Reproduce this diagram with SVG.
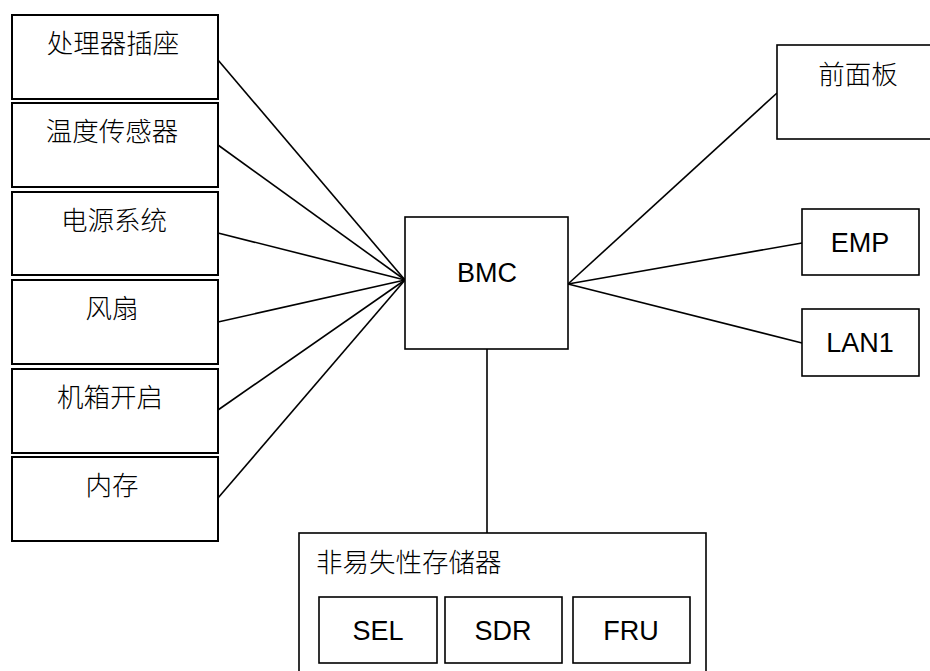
<svg xmlns="http://www.w3.org/2000/svg" width="930" height="671" viewBox="0 0 930 671">
<style>
.box{fill:#fff;stroke:#000;stroke-width:2}
.sbox{fill:#fff;stroke:#000;stroke-width:1.6}
.cn{font-family:"Noto Sans CJK SC","Noto Sans CJK TC",sans-serif;font-size:26.5px;font-weight:300;fill:#000}
.lt{font-family:"Liberation Sans",Arial,sans-serif;font-size:27px;fill:#000}
.ln{stroke:#000;stroke-width:1.6;fill:none}
</style>
<rect width="930" height="671" fill="#fff"/>
<g id="connectors">
<line class="ln" x1="218" y1="60" x2="405" y2="280"/>
<line class="ln" x1="218" y1="145" x2="405" y2="280"/>
<line class="ln" x1="218" y1="233" x2="405" y2="280"/>
<line class="ln" x1="218" y1="322" x2="405" y2="280"/>
<line class="ln" x1="218" y1="410" x2="405" y2="280"/>
<line class="ln" x1="218" y1="498" x2="405" y2="280"/>
<line class="ln" x1="568" y1="284" x2="777" y2="93"/>
<line class="ln" x1="568" y1="284" x2="802" y2="243"/>
<line class="ln" x1="568" y1="284" x2="802" y2="343"/>
<line class="ln" x1="487" y1="349" x2="487" y2="533"/>
</g>
<g id="n1"><rect class="box" x="12" y="15" width="206" height="84"/><text class="cn" x="113" y="53" text-anchor="middle">处理器插座</text></g>
<g id="n2"><rect class="box" x="12" y="103" width="206" height="84"/><text class="cn" x="112" y="141" text-anchor="middle">温度传感器</text></g>
<g id="n3"><rect class="box" x="12" y="192" width="206" height="83"/><text class="cn" x="114" y="230" text-anchor="middle">电源系统</text></g>
<g id="n4"><rect class="box" x="12" y="280" width="206" height="84"/><text class="cn" x="112" y="318" text-anchor="middle">风扇</text></g>
<g id="n5"><rect class="box" x="12" y="369" width="206" height="84"/><text class="cn" x="110" y="407" text-anchor="middle">机箱开启</text></g>
<g id="n6"><rect class="box" x="12" y="457" width="206" height="84"/><text class="cn" x="112" y="495" text-anchor="middle">内存</text></g>
<g id="bmc"><rect class="sbox" x="405" y="217" width="163" height="132"/><text class="lt" x="487" y="282" text-anchor="middle">BMC</text></g>
<g id="panel"><rect class="sbox" x="777" y="45" width="170" height="94"/><text class="cn" x="858" y="84" text-anchor="middle">前面板</text></g>
<g id="emp"><rect class="sbox" x="802" y="209" width="117" height="66"/><text class="lt" x="860" y="252" text-anchor="middle">EMP</text></g>
<g id="lan1"><rect class="sbox" x="802" y="309" width="117" height="67"/><text class="lt" x="860" y="352" text-anchor="middle">LAN1</text></g>
<g id="nvm"><rect class="sbox" x="299" y="533" width="407" height="160"/><text class="cn" x="316" y="572">非易失性存储器</text>
<g id="sel"><rect class="sbox" x="319" y="597" width="118" height="66"/><text class="lt" x="378" y="640" text-anchor="middle">SEL</text></g>
<g id="sdr"><rect class="sbox" x="445" y="597" width="117" height="66"/><text class="lt" x="503" y="640" text-anchor="middle">SDR</text></g>
<g id="fru"><rect class="sbox" x="573" y="597" width="117" height="66"/><text class="lt" x="631" y="640" text-anchor="middle">FRU</text></g>
</g>
</svg>
